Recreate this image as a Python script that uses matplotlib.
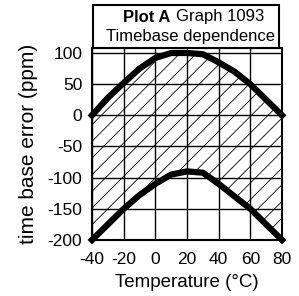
import matplotlib
matplotlib.use("Agg")
import matplotlib.pyplot as plt
from matplotlib.patches import Rectangle

temps = [-40, -30, -20, -10, 0, 10, 20, 30, 40, 50, 60, 70, 80]
upper = [0, 28, 52, 75, 92, 100, 100, 98, 85, 70, 50, 25, 0]
lower = [-200, -175, -150, -128, -110, -95, -90, -92, -110, -130, -150, -175, -200]
xticks = [-40, -20, 0, 20, 40, 60, 80]
yticks = [100, 50, 0, -50, -100, -150, -200]

plt.rcParams['font.family'] = ['Liberation Sans', 'DejaVu Sans']
plt.rcParams['hatch.linewidth'] = 0.6

fig = plt.figure(figsize=(2.99, 2.96), dpi=100)
ax = fig.add_axes([92/299, 1-240/296, 190/299, 192/296])
ax.set_xlim(-40, 80)
ax.set_ylim(-200, 108)

ax.fill_between(temps, lower, upper, facecolor='none', edgecolor='black',
                hatch='//', linewidth=0)
ax.plot(temps, upper, color='black', lw=4.5, solid_capstyle='projecting', clip_on=False, zorder=5)
ax.plot(temps, lower, color='black', lw=4.5, solid_capstyle='projecting', clip_on=False, zorder=5)

ax.set_xticks(xticks)
ax.set_yticks(yticks)
ax.set_xticklabels([str(t) for t in xticks], fontsize=12.5)
ax.set_yticklabels([str(t) for t in yticks], fontsize=12.5)
ax.grid(True, color='black', lw=1.0)
ax.set_axisbelow(False)
ax.tick_params(axis='x', length=0, pad=9)
ax.tick_params(axis='y', length=0, pad=7)
for s in ax.spines.values():
    s.set_linewidth(1.5)

ax.set_xlabel('Temperature (°C)', fontsize=13.5, labelpad=5)
ax.set_ylabel('time base error (ppm)', fontsize=15, labelpad=7)

# title box
fig.patches.append(Rectangle((93/299, 1-48/296), 186/299, 43/296, transform=fig.transFigure,
                             facecolor='white', edgecolor='black', lw=1.5, zorder=10))
fig.text(170/299, 1-17/296, 'Plot A', ha='right', va='center', fontsize=12, fontweight='bold', zorder=11)
fig.text(176/299, 1-17/296, 'Graph 1093', ha='left', va='center', fontsize=12, zorder=11)
fig.text(190/299, 1-37/296, 'Timebase dependence', ha='center', va='center', fontsize=12, zorder=11)

fig.savefig('out.png', dpi=100)
